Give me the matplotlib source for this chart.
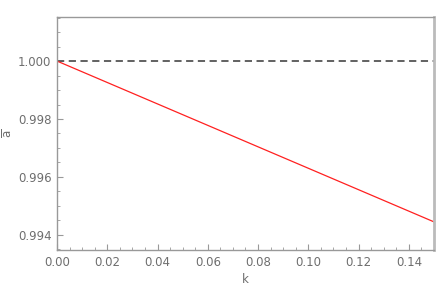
import matplotlib
matplotlib.use("Agg")
import matplotlib.pyplot as plt
from matplotlib.ticker import MultipleLocator

# data
k = [0.0, 0.15]
a_bar = [1.0, 0.99445]
ref_level = 1.0

xticks = [0.00, 0.02, 0.04, 0.06, 0.08, 0.10, 0.12, 0.14]
yticks = [0.994, 0.996, 0.998, 1.000]

grey = "#6e6e6e"
plt.rcParams['font.family'] = ['DejaVu Sans']

fig = plt.figure(figsize=(4.36, 2.94), dpi=100)
ax = fig.add_axes([0.1307, 0.1497, 0.8647, 0.7925])

ax.axhline(ref_level, color="#555555", lw=1.3, ls=(0, (4, 2.5)))
ax.plot(k, a_bar, color="#ff2020", lw=0.9)

ax.set_xlim(0, 0.15)
ax.set_ylim(0.99348, 1.00152)
ax.set_xticks(xticks)
ax.set_xticklabels(["%.2f" % v for v in xticks])
ax.set_yticks(yticks)
ax.set_yticklabels(["%.3f" % v for v in yticks])
ax.xaxis.set_minor_locator(MultipleLocator(0.005))
ax.yaxis.set_minor_locator(MultipleLocator(0.0005))

ax.tick_params(which="both", direction="in", colors="#999999", labelcolor=grey,
               labelsize=8.5, top=False, right=False)
ax.tick_params(which="major", length=4, width=0.8, pad=4)
ax.tick_params(which="minor", length=2.5, width=0.6)

for side in ["left", "bottom", "top"]:
    ax.spines[side].set_color("#999999")
    ax.spines[side].set_linewidth(1.0)
ax.spines["right"].set_color("#bbbbbb")
ax.spines["right"].set_linewidth(2.0)

ax.set_xlabel("k", color=grey, fontsize=8.5)
ax.xaxis.set_label_coords(0.5, -0.125)
ax.xaxis.label.set_va("center")
ax.set_ylabel(r"$\overline{\mathrm{a}}$", color=grey, fontsize=8.5)
ax.yaxis.set_label_coords(-0.13, 0.5)
ax.yaxis.label.set_va("center")

fig.savefig("out.png", dpi=100)
